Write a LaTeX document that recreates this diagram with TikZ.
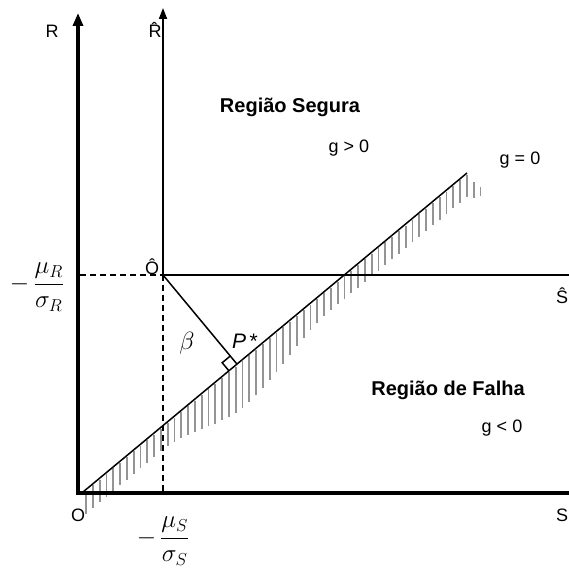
\documentclass[tikz,border=0pt]{standalone}
\usepackage{amsmath}
\usepackage{fontspec}
\setmainfont{Liberation Sans}
\usetikzlibrary{arrows.meta,calc}
\begin{document}
\begin{tikzpicture}[x=1pt,y=-1pt,
 thickaxis/.style={line width=4.5pt, line join=miter},
 thinaxis/.style={line width=1.8pt},
 guide/.style={line width=1.8pt, dash pattern=on 6pt off 4pt},
 limit/.style={line width=1.5pt},
 hatchline/.style={line width=1.8pt, draw=black!42},
 lbl/.style={font=\fontsize{18}{21}\selectfont, inner sep=0pt},
 region/.style={font=\fontsize{20}{23}\selectfont\bfseries, inner sep=0pt},
 fracl/.style={font=\fontsize{24}{28}\selectfont, inner sep=0pt}]
\useasboundingbox (0,0) rectangle (568,569);
\coordinate (O) at (78,493);
\coordinate (Rtop) at (78,13);
\coordinate (Send) at (570,493);
\coordinate (Oh) at (163,275);
\coordinate (Rhtop) at (163,8);
\coordinate (Shend) at (570,275);
\coordinate (Ry) at (80,275);
\coordinate (Sx) at (163,491);
\coordinate (A) at (83,492);
\coordinate (B) at (467,173);
\coordinate (P) at ($(A)!(Oh)!(B)$);
% hatching
\foreach \i in {0,...,56}{
  \pgfmathsetmacro\hx{86+6.8*\i}
  \pgfmathsetmacro\hy{492-(\hx-83)*0.83073}
  \pgfmathsetmacro\ha{(\hx-160)*2.1176}
  \pgfmathsetmacro\hl{(\hx<160 || \hx>330) ? 24 : 24+24*(0.5-0.5*cos(\ha))}
  \draw[hatchline] (\hx,{\hy+1.5}) -- (\hx,{\hy+\hl});
}
\draw[hatchline] (473.6,182) -- (473.6,198);
\draw[hatchline] (480.4,187) -- (480.4,196);
% axes
\draw[thickaxis, {Triangle[length=13pt,width=10pt]}-] (Rtop) -- (O) -- (Send);
\draw[thinaxis, {Triangle[length=11pt,width=8pt]}-] (Rhtop) -- (Oh) -- (Shend);
\draw[guide] (Ry) -- (Oh);
\draw[guide] (Oh) -- (Sx);
% limit line and beta
\draw[limit] (A) -- (B);
\draw[limit] (Oh) -- (P);
\coordinate (Q1) at ($(P)!10.5pt!(Oh)$);
\coordinate (Q2) at ($(P)!10.5pt!(A)$);
\draw[limit] (Q1) -- ($(Q1)+(Q2)-(P)$) -- (Q2);
% labels
\node[lbl, anchor=base] (lR) at (52,38) {R};
\node[lbl, anchor=base] (lRh) at (155,38) {\^{R}};
\node[lbl, anchor=base] (lOh) at (152,274) {Ô};
\node[lbl, anchor=base] (lSh) at (562,303) {Ŝ};
\node[lbl, anchor=base] (lO) at (78,521) {O};
\node[lbl, anchor=base] (lS) at (562,521) {S};
\node[region] (safe) at (290,107) {Região Segura};
\node[lbl] (gpos) at (349,148) {g > 0};
\node[lbl] (gzero) at (520,160) {g = 0};
\node[region] (fail) at (448,390) {Região de Falha};
\node[lbl] (gneg) at (502,428) {g < 0};
\node[font=\fontsize{26}{30}\selectfont, inner sep=0pt] (beta) at (187,343) {$\beta$};
\node[font=\fontsize{21}{24}\selectfont, inner sep=0pt] (pstar) at (245,341) {\textit{P}\,*};
\node[fracl] (fR) at (37,287) {$-\,\dfrac{\mu_R}{\sigma_R}$};
\node[fracl] (fS) at (163,541) {$-\,\dfrac{\mu_S}{\sigma_S}$};
\end{tikzpicture}
\end{document}
